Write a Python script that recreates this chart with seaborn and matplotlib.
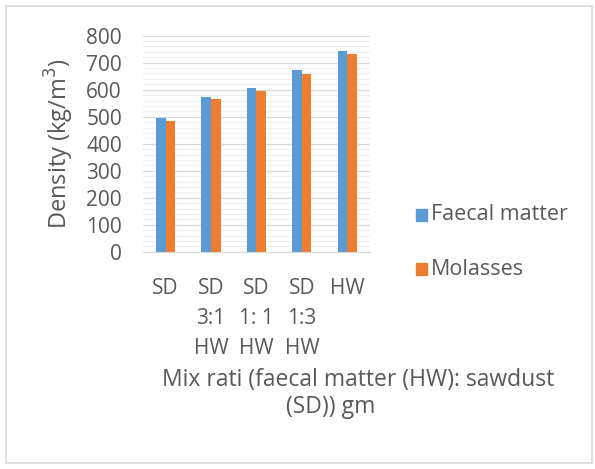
import matplotlib
matplotlib.use("Agg")
import matplotlib.pyplot as plt
from matplotlib.ticker import MultipleLocator
from matplotlib.patches import Rectangle
import seaborn as sns
import pandas as pd

# data
categories = ["SD", "SD\n3:1\nHW", "SD\n1: 1\nHW", "SD\n1:3\nHW", "HW"]
faecal = [495, 574, 608, 673, 742]
molasses = [485, 564, 595, 658, 732]
series_names = ["Faecal matter", "Molasses"]
colors = ["#5B9BD5", "#ED7D31"]

df = pd.DataFrame({
    "mix": categories * 2,
    "density": faecal + molasses,
    "series": [series_names[0]] * 5 + [series_names[1]] * 5,
})

sns.set_style("white")
plt.rcParams["font.family"] = ["Open Sans", "DejaVu Sans"]
text_color = "#595959"

fig = plt.figure(figsize=(5.95, 4.69), dpi=100)
ax = fig.add_axes([0.240, 0.463, 0.382, 0.461])

sns.barplot(data=df, x="mix", y="density", hue="series", palette=colors,
            width=0.42, gap=0, saturation=1, linewidth=0, ax=ax, legend=False)

ax.set_ylim(0, 800)
ax.yaxis.set_major_locator(MultipleLocator(100))
ax.yaxis.set_minor_locator(MultipleLocator(20))
ax.grid(axis="y", which="major", color="#d9d9d9", linewidth=0.9)
ax.grid(axis="y", which="minor", color="#f0f0f0", linewidth=0.9)
ax.set_axisbelow(True)
for s in ["top", "right", "left"]:
    ax.spines[s].set_visible(False)
ax.spines["bottom"].set_color("#d9d9d9")

ax.tick_params(axis="y", which="both", length=0, labelsize=15, labelcolor=text_color, pad=15)
ax.tick_params(axis="x", length=0, labelsize=15, labelcolor=text_color, pad=19)
for lab in ax.get_xticklabels():
    lab.set_verticalalignment("top")
    lab.set_linespacing(1.55)

ax.set_xlabel("")
ax.set_ylabel("Density (kg/m$^3$)", fontsize=17, color=text_color, labelpad=7)

fig.text(0.602, 0.190, "Mix rati (faecal matter (HW): sawdust", ha="center",
         va="center", fontsize=16.5, color=text_color)
fig.text(0.555, 0.133, "(SD)) gm", ha="center", va="center",
         fontsize=16.5, color=text_color)

# legend
for i, name in enumerate(series_names):
    y = 0.542 - i * 0.116
    fig.patches.append(Rectangle((0.699, y - 0.013), 0.019, 0.026,
                                 transform=fig.transFigure, color=colors[i]))
    fig.text(0.724, y, name, va="center", ha="left", fontsize=15.5, color=text_color)

# chart area border
fig.patches.append(Rectangle((0.010, 0.012), 0.985, 0.975, transform=fig.transFigure,
                             fill=False, edgecolor="#d9d9d9", linewidth=1.2))

fig.savefig("out.png", dpi=100, facecolor="white")
